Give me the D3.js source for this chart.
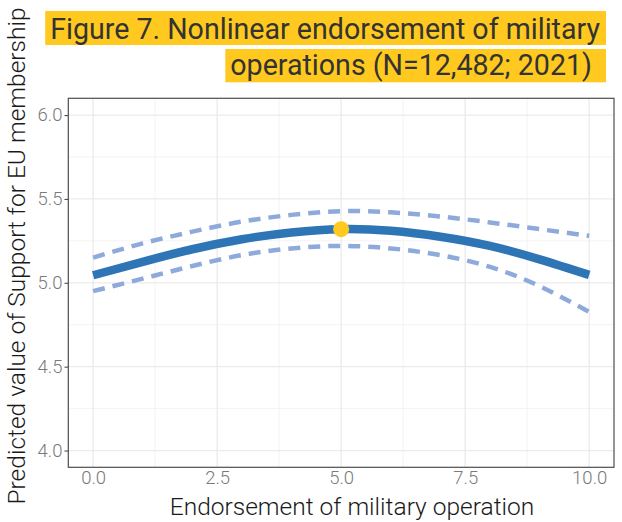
<!DOCTYPE html>
<html>
<head>
<meta charset="utf-8">
<script src="https://cdn.jsdelivr.net/npm/d3@7"></script>
<style>
  html, body { margin: 0; padding: 0; background: #ffffff; }
  svg { display: block; font-family: Roboto, "Noto Sans", sans-serif; }
  .light { font-family: "Roboto Light", Roboto, sans-serif; font-weight: 300; }
</style>
</head>
<body>
<svg id="chart" width="622" height="522"></svg>
<script>
// ---- data ----
const xValues   = [0, 1, 2, 3, 4, 5, 6, 7, 8, 9, 10];
const predicted = [5.045, 5.125, 5.20, 5.26, 5.30, 5.32, 5.31, 5.275, 5.22, 5.14, 5.047];
const upperCI   = [5.15, 5.235, 5.305, 5.365, 5.405, 5.427, 5.42, 5.395, 5.36, 5.32, 5.28];
const lowerCI   = [4.95, 5.025, 5.10, 5.165, 5.205, 5.22, 5.205, 5.165, 5.095, 4.98, 4.826];
const highlightX = [5];
const highlightY = [5.32];
const xTicks = [0, 2.5, 5, 7.5, 10];
const xTickLabels = ["0.0", "2.5", "5.0", "7.5", "10.0"];
const xMinor = [1.25, 3.75, 6.25, 8.75];
const yTicks = [4, 4.5, 5, 5.5, 6];
const yTickLabels = ["4.0", "4.5", "5.0", "5.5", "6.0"];
const yMinor = [4.25, 4.75, 5.25, 5.75];
const titleLines = ["Figure 7. Nonlinear endorsement of military", "operations (N=12,482; 2021)"];
const xTitle = "Endorsement of military operation";
const yTitle = "Predicted value of Support for EU membership";

// ---- layout ----
const svg = d3.select("#chart");
const P = { left: 68.3, right: 614, top: 98.3, bottom: 467.3 };
const x = d3.scaleLinear().domain([-0.5, 10.5]).range([P.left, P.right]);
const y = d3.scaleLinear().domain([3.9, 6.1]).range([P.bottom, P.top]);

svg.append("rect").attr("x", P.left).attr("y", P.top)
  .attr("width", P.right - P.left).attr("height", P.bottom - P.top)
  .attr("fill", "#ffffff");

// minor grid
const grid = svg.append("g");
grid.selectAll(".xm").data(xMinor).join("line")
  .attr("x1", d => x(d)).attr("x2", d => x(d)).attr("y1", P.top).attr("y2", P.bottom)
  .attr("stroke", "#f3f3f3").attr("stroke-width", 1);
grid.selectAll(".ym").data(yMinor).join("line")
  .attr("y1", d => y(d)).attr("y2", d => y(d)).attr("x1", P.left).attr("x2", P.right)
  .attr("stroke", "#f3f3f3").attr("stroke-width", 1);
// major grid
grid.selectAll(".xM").data(xTicks).join("line")
  .attr("x1", d => x(d)).attr("x2", d => x(d)).attr("y1", P.top).attr("y2", P.bottom)
  .attr("stroke", "#ebebeb").attr("stroke-width", 1.3);
grid.selectAll(".yM").data(yTicks).join("line")
  .attr("y1", d => y(d)).attr("y2", d => y(d)).attr("x1", P.left).attr("x2", P.right)
  .attr("stroke", "#ebebeb").attr("stroke-width", 1.3);

// lines
const pts = a => xValues.map((v, i) => [v, a[i]]);
const lineGen = d3.line().x(d => x(d[0])).y(d => y(d[1])).curve(d3.curveNatural);

svg.append("path").attr("d", lineGen(pts(upperCI)))
  .attr("fill", "none").attr("stroke", "#8eaadb").attr("stroke-width", 4.5)
  .attr("stroke-dasharray", "12,8");
svg.append("path").attr("d", lineGen(pts(lowerCI)))
  .attr("fill", "none").attr("stroke", "#8eaadb").attr("stroke-width", 4.5)
  .attr("stroke-dasharray", "12,8");
svg.append("path").attr("d", lineGen(pts(predicted)))
  .attr("fill", "none").attr("stroke", "#2e75b6").attr("stroke-width", 8.5);

svg.selectAll(".dot").data(highlightX).join("circle")
  .attr("cx", d => x(d)).attr("cy", (d, i) => y(highlightY[i])).attr("r", 8)
  .attr("fill", "#ffc91f");

// panel border
svg.append("rect").attr("x", P.left).attr("y", P.top)
  .attr("width", P.right - P.left).attr("height", P.bottom - P.top)
  .attr("fill", "none").attr("stroke", "#4d4d4d").attr("stroke-width", 1.2);

// y axis
const yAxis = d3.axisLeft(y).tickValues(yTicks).tickSize(3.8).tickPadding(2)
  .tickFormat((d, i) => yTickLabels[i]);
const gy = svg.append("g").attr("transform", `translate(${P.left},0)`).call(yAxis);
gy.select(".domain").remove();
gy.selectAll(".tick line").attr("stroke", "#4d4d4d").attr("stroke-width", 1.1);
gy.selectAll(".tick text").attr("class", "light").attr("fill", "#7a7a7a").attr("font-size", 18.5);

// x axis
const xAxis = d3.axisBottom(x).tickValues(xTicks).tickSize(0).tickPadding(4)
  .tickFormat((d, i) => xTickLabels[i]);
const gx = svg.append("g").attr("transform", `translate(0,${P.bottom})`).call(xAxis);
gx.select(".domain").remove();
gx.selectAll(".tick text").attr("class", "light").attr("fill", "#7a7a7a").attr("font-size", 18.5);

// axis titles
svg.append("text").attr("class", "light").attr("x", 352).attr("y", 515)
  .attr("text-anchor", "middle").attr("font-size", 24.5)
  .attr("fill", "#1a1a1a").text(xTitle);
svg.append("text").attr("class", "light").attr("transform", "translate(25,256) rotate(-90)")
  .attr("text-anchor", "middle").attr("font-size", 24.5)
  .attr("fill", "#1a1a1a").text(yTitle);

// title with highlight
const tg = svg.append("g");
const titleSpecs = [
  { text: titleLines[0], xEnd: 600, base: 39.3, top: 11, bot: 45, bgRight: 606 },
  { text: titleLines[1], xEnd: 592, base: 74.5, top: 49, bot: 82.3, bgRight: 606 }
];
titleSpecs.forEach(s => {
  const r = tg.append("rect").attr("fill", "#ffc91f");
  const t = tg.append("text").attr("x", s.xEnd).attr("y", s.base)
    .attr("text-anchor", "end").attr("font-size", 28.6).attr("font-weight", 400)
    .attr("fill", "#333333").text(s.text);
  const len = t.node().getComputedTextLength();
  const left = s.xEnd - len - 5;
  r.attr("x", left).attr("y", s.top).attr("width", s.bgRight - left).attr("height", s.bot - s.top);
});
</script>
</body>
</html>
